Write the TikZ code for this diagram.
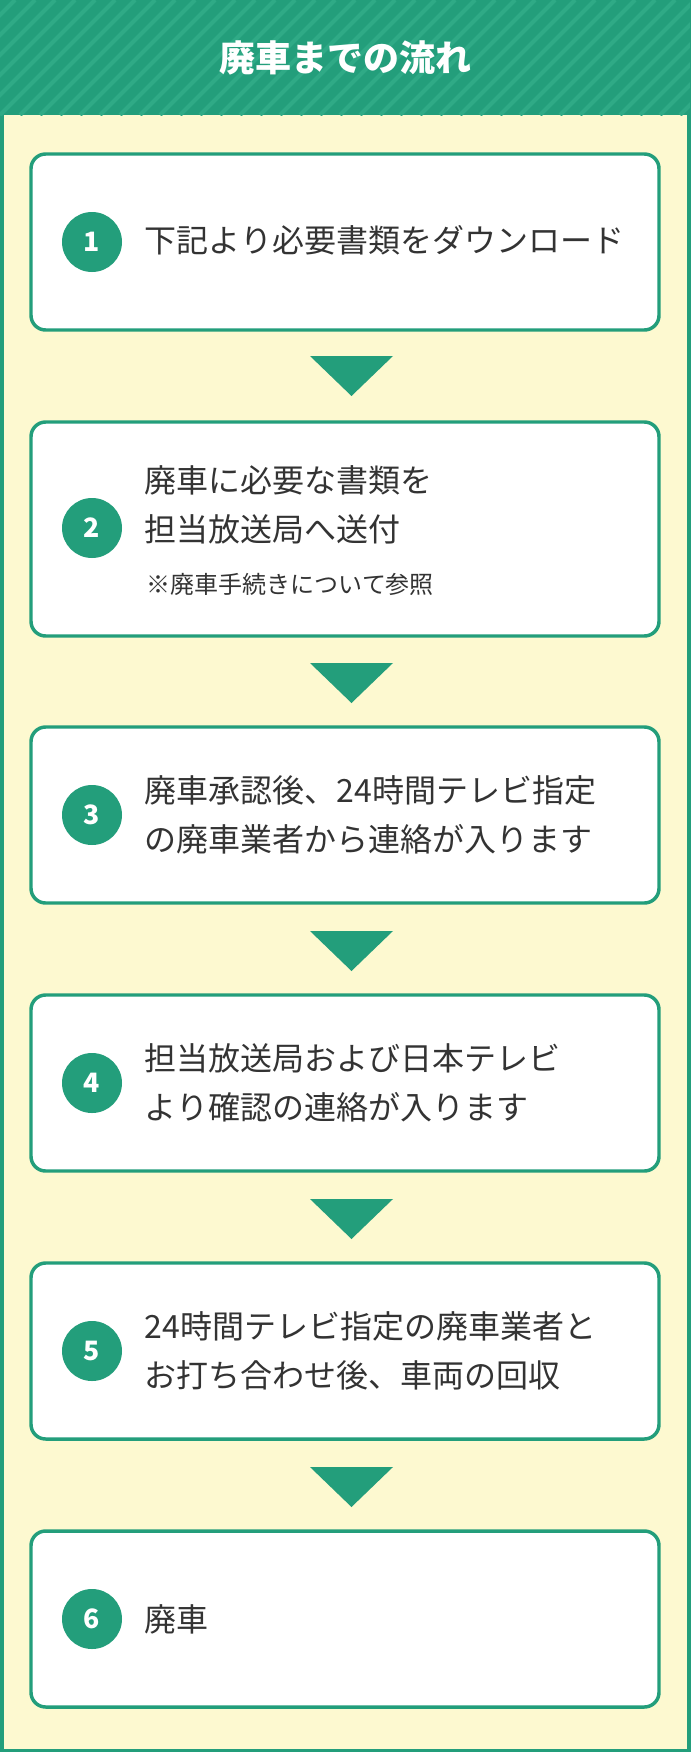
\documentclass[tikz,border=0pt]{standalone}
\usepackage{fontspec}
\setmainfont{Noto Sans CJK JP}
\usetikzlibrary{positioning}
\definecolor{flowgreen}{HTML}{239E7B}
\definecolor{flowstripe}{HTML}{2FAA86}
\definecolor{flowcream}{HTML}{FDF9D0}
\definecolor{flowtext}{HTML}{333333}
\tikzset{
  stepcard/.style={draw=flowgreen, line width=2.6pt, fill=white, rounded corners=11pt},
  stepnum/.style={circle, fill=flowgreen, text=white, minimum size=45pt, inner sep=0pt, font=\fontsize{20}{20}\selectfont\bfseries},
  steptext/.style={anchor=west, align=left, text=flowtext, font=\fontsize{24}{37}\selectfont},
  steparrow/.style={fill=flowgreen}
}
\begin{document}
\begin{tikzpicture}[x=0.75pt, y=-0.75pt]
    \useasboundingbox (0,0) rectangle (690,1752);
    % background and header
    \fill [flowcream] (0,0) rectangle (690,1752);
    \draw [flowgreen, line width=3pt] (1.5,1.5) rectangle (688.5,1750.5);
    \fill [flowgreen] (0,0) rectangle (690,115);
    \begin{scope}
      \clip (0,0) rectangle (690,115);
      \foreach \i in {-120,-100,...,700}
        \draw [flowstripe, line width=3pt] (\i,115) -- (\i+115,0);
    \end{scope}
    \node [text=white, font=\fontsize{27}{27}\selectfont\bfseries] (title) at (345,58) {廃車までの流れ};

    % cards
    \draw [stepcard] (31,154) rectangle (659,330);
    \draw [stepcard] (31,422) rectangle (659,636);
    \draw [stepcard] (31,727) rectangle (659,903);
    \draw [stepcard] (31,995) rectangle (659,1171);
    \draw [stepcard] (31,1263) rectangle (659,1439);
    \draw [stepcard] (31,1531) rectangle (659,1707);

    % numbers
    \node [stepnum] (n1) at (92,242) {1};
    \node [stepnum] (n2) at (92,528) {2};
    \node [stepnum] (n3) at (92,815) {3};
    \node [stepnum] (n4) at (92,1083) {4};
    \node [stepnum] (n5) at (92,1351) {5};
    \node [stepnum] (n6) at (92,1619) {6};

    % texts
    \node [steptext] (t1) at (140,240) {下記より必要書類をダウンロード};
    \node [steptext] (t2) at (140,505) {廃車に必要な書類を\\担当放送局へ送付};
    \node [steptext, font=\fontsize{18}{20}\selectfont] (t2b) at (142,584) {※廃車手続きについて参照};
    \node [steptext] (t3) at (140,815) {廃車承認後、24時間テレビ指定\\の廃車業者から連絡が入ります};
    \node [steptext] (t4) at (140,1083) {担当放送局および日本テレビ\\より確認の連絡が入ります};
    \node [steptext] (t5) at (140,1351) {24時間テレビ指定の廃車業者と\\お打ち合わせ後、車両の回収};
    \node [steptext] (t6) at (140,1619) {廃車};

    % arrows
    \foreach \y in {356,663,931,1199,1467}
      \fill [steparrow] (310,\y) -- (393,\y) -- (351.5,\y+40) -- cycle;
\end{tikzpicture}
\end{document}
